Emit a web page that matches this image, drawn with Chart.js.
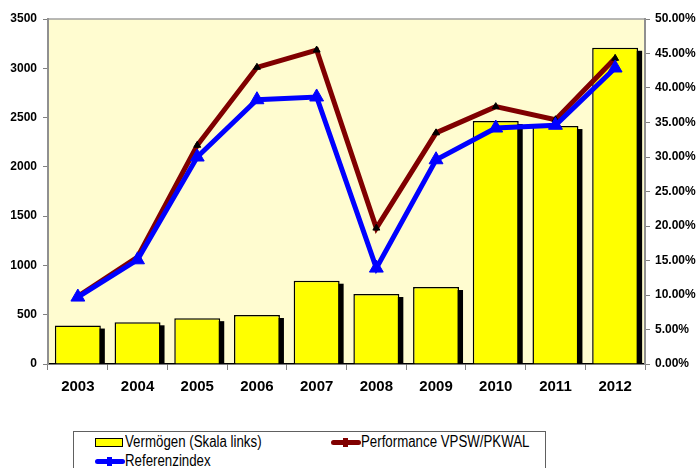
<!DOCTYPE html>
<html>
<head>
<meta charset="utf-8">
<script src="https://cdn.jsdelivr.net/npm/chart.js@4.4.1/dist/chart.umd.min.js"></script>
<style>
  html, body { margin: 0; padding: 0; background: #ffffff; overflow: hidden; }
  #wrap { position: relative; width: 700px; height: 468px; }
  #c { position: absolute; left: 0; top: 0; }
  #legend {
    position: absolute; left: 73px; top: 431px; width: 473px; height: 50px;
    border: 1.5px solid #606060; background: #fff; box-sizing: border-box;
    font-family: "Liberation Sans", Arial, sans-serif;
    font-size: 16px; color: #000;
  }
  .item { position: absolute; white-space: nowrap; line-height: 16px; }
  .sw { position: absolute; }
  .txt { position: absolute; left: 30px; top: 0; transform: scaleX(0.83); transform-origin: 0 50%; }
</style>
</head>
<body>
<div id="wrap">
  <canvas id="c" width="700" height="468"></canvas>
  <div id="legend">
    <div class="item" style="left:21px; top:2px;">
      <span class="sw" style="left:0; top:4px; width:28px; height:9px; background:#ffff00; border:1.5px solid #000; box-sizing:border-box;"></span>
      <span class="txt">Vermögen (Skala links)</span>
    </div>
    <div class="item" style="left:257px; top:2px;">
      <span class="sw" style="left:0; top:6px; width:30px; height:5px; background:#800000; border-radius:3px;"></span>
      <span class="sw" style="left:12px; top:4px; width:5px; height:9px; background:#800000;"></span>
      <span class="txt">Performance VPSW/PKWAL</span>
    </div>
    <div class="item" style="left:21px; top:21px;">
      <span class="sw" style="left:0; top:6px; width:30px; height:5px; background:#0000ff; border-radius:3px;"></span>
      <span class="sw" style="left:12px; top:4px; width:5px; height:9px; background:#0000ff;"></span>
      <span class="txt">Referenzindex</span>
    </div>
  </div>
</div>
<script>
const years = ['2003','2004','2005','2006','2007','2008','2009','2010','2011','2012'];
const assets = [390, 423, 465, 497, 845, 710, 781, 2465, 2414, 3208];
const performance = [9.8, 15.5, 31.7, 43.0, 45.5, 19.7, 33.5, 37.3, 35.4, 44.3];
const referenzindex = [9.7, 15.1, 30.0, 38.3, 38.7, 13.9, 29.6, 34.2, 34.6, 42.9];
const leftMax = 3500, leftStep = 500;
const rightMax = 50, rightStep = 5;

const plotBg = {
  id: 'plotBg',
  beforeDraw(chart) {
    const {ctx, chartArea: a} = chart;
    ctx.save();
    ctx.fillStyle = '#fffcd0';
    ctx.fillRect(a.left, a.top, a.right - a.left, a.bottom - a.top);
    ctx.strokeStyle = '#a0a0a0';
    ctx.lineWidth = 1.5;
    ctx.beginPath();
    ctx.moveTo(a.left, a.top);
    ctx.lineTo(a.right, a.top);
    ctx.stroke();
    ctx.restore();
  }
};
// black drop shadow behind each bar, from the bar elements' own geometry
const barShadow = {
  id: 'barShadow',
  beforeDatasetDraw(chart, args) {
    if (args.index !== 0) return;
    const {ctx, chartArea: a} = chart;
    const meta = chart.getDatasetMeta(0);
    ctx.save();
    ctx.beginPath();
    ctx.rect(a.left, a.top, a.right - a.left, a.bottom - a.top);
    ctx.clip();
    ctx.fillStyle = '#000';
    meta.data.forEach(bar => {
      const p = bar.getProps(['x', 'y', 'base', 'width'], true);
      ctx.fillRect(p.x - p.width / 2 + 4, p.y + 3, p.width, p.base - p.y);
    });
    ctx.restore();
  }
};

Chart.defaults.font.family = '"Liberation Sans", Arial, sans-serif';
Chart.defaults.color = '#000';

new Chart(document.getElementById('c'), {
  type: 'bar',
  data: {
    labels: years,
    datasets: [
      {
        type: 'bar', label: 'Vermögen (Skala links)', data: assets, yAxisID: 'y',
        backgroundColor: '#ffff00', borderColor: '#000', borderWidth: 1.5,
        categoryPercentage: 1, barPercentage: 0.77, order: 2
      },
      {
        type: 'line', label: 'Performance VPSW/PKWAL', data: performance, yAxisID: 'y1',
        borderColor: '#800000', borderWidth: 5, tension: 0,
        pointStyle: 'triangle', pointRadius: 4, pointBackgroundColor: '#000',
        pointBorderColor: '#000', pointBorderWidth: 1, order: 1
      },
      {
        type: 'line', label: 'Referenzindex', data: referenzindex, yAxisID: 'y1',
        borderColor: '#0000ff', borderWidth: 5, tension: 0,
        pointStyle: 'triangle', pointRadius: 8, pointBackgroundColor: '#0000ff',
        pointBorderColor: '#0000ff', pointBorderWidth: 1, order: 0
      }
    ]
  },
  options: {
    responsive: false,
    animation: false,
    layout: { padding: { top: 19, bottom: 74, left: 0, right: 0 } },
    plugins: { legend: { display: false }, tooltip: { enabled: false } },
    scales: {
      x: {
        grid: { display: true, drawOnChartArea: false, offset: true, color: '#808080', tickLength: 6 },
        border: { display: true, color: '#000', width: 1.5 },
        ticks: { font: { size: 15, weight: 'bold' }, padding: 8 },
        afterFit(axis) { axis.height = 30; }
      },
      y: {
        position: 'left', min: 0, max: leftMax,
        ticks: { stepSize: leftStep, font: { size: 12, weight: 'bold' }, padding: 6,
          callback: v => String(v) },
        grid: { display: true, drawOnChartArea: false, color: '#808080', tickLength: 5 },
        border: { display: true, color: '#909090', width: 2 },
        afterFit(axis) { axis.width = 48; }
      },
      y1: {
        position: 'right', min: 0, max: rightMax,
        ticks: { stepSize: rightStep, font: { size: 12, weight: 'bold' }, padding: 5,
          callback: v => v.toFixed(2) + '%' },
        grid: { display: true, drawOnChartArea: false, color: '#808080', tickLength: 5 },
        border: { display: true, color: '#909090', width: 2 },
        afterFit(axis) { axis.width = 55; }
      }
    }
  },
  plugins: [plotBg, barShadow]
});
</script>
</body>
</html>
